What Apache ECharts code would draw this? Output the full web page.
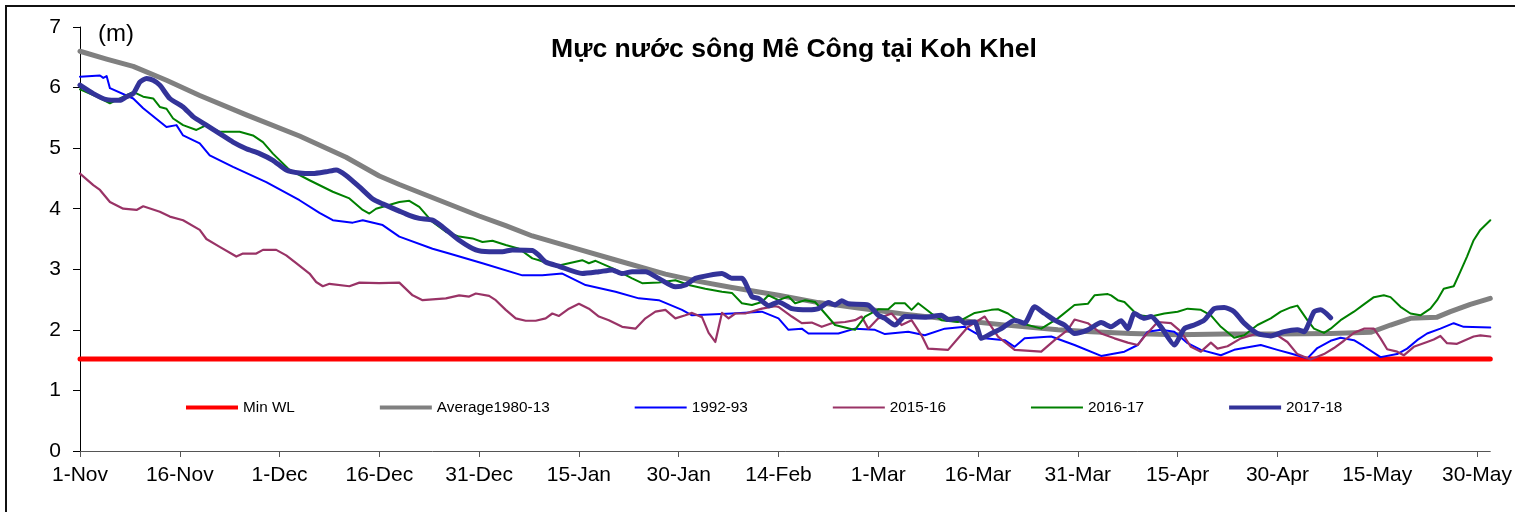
<!DOCTYPE html>
<html>
<head>
<meta charset="utf-8">
<title>Mực nước sông Mê Công tại Koh Khel</title>
<script src="https://cdn.jsdelivr.net/npm/echarts@6.0.0/dist/echarts.min.js"></script>
<style>
  html, body { margin: 0; padding: 0; background: #fff; }
  #chart { width: 1515px; height: 512px; }
</style>
</head>
<body>
<div id="chart"></div>
<script>
// x = days counted from 1-Nov
const tickDays = [0, 15, 30, 45, 60, 75, 90, 105, 120, 135, 150, 165, 180, 195, 210]
const tickLabels = ['1-Nov', '16-Nov', '1-Dec', '16-Dec', '31-Dec', '15-Jan', '30-Jan', '14-Feb',
  '1-Mar', '16-Mar', '31-Mar', '15-Apr', '30-Apr', '15-May', '30-May']
const seriesNames = ['Min WL', 'Average1980-13', '1992-93', '2015-16', '2016-17', '2017-18']

const minWL = [[0, 1.52], [212, 1.52]]

const average = [[0, 6.6], [4, 6.47], [8, 6.35], [13, 6.12], [18, 5.87], [25, 5.55], [33, 5.2], [40, 4.85],
  [45, 4.54], [48, 4.4], [54, 4.14], [60, 3.88], [64, 3.72], [68, 3.55], [75, 3.33], [80, 3.17], [88, 2.92],
  [93, 2.8], [98, 2.7], [105, 2.57], [111, 2.45], [117, 2.36], [124, 2.26], [132, 2.16], [140, 2.07], [147, 2.0],
  [152, 1.97], [158, 1.94], [165, 1.92], [172, 1.93], [180, 1.93], [188, 1.94], [194, 1.96], [197, 2.08],
  [200, 2.19], [204, 2.21], [206, 2.3], [209, 2.42], [212, 2.52]]

const y1992 = [[0, 6.18], [3, 6.2], [3.5, 6.16], [4, 6.19], [4.5, 5.99], [8, 5.82], [9.5, 5.66], [13, 5.35],
  [14.5, 5.38], [15.5, 5.21], [18, 5.08], [19.5, 4.88], [23, 4.69], [28, 4.44], [33, 4.14], [36, 3.93],
  [38, 3.81], [41, 3.77], [42.5, 3.81], [45.5, 3.73], [48, 3.54], [53, 3.34], [55.5, 3.26], [60.5, 3.1],
  [66.5, 2.9], [69.5, 2.9], [72.5, 2.93], [76, 2.74], [80.5, 2.63], [84, 2.52], [87, 2.49], [90.5, 2.33],
  [92, 2.24], [98, 2.27], [102.5, 2.3], [105, 2.19], [106.5, 2.0], [108.5, 2.02], [109.5, 1.94], [114, 1.94],
  [116.5, 2.02], [119.5, 2.0], [121, 1.93], [124.5, 1.97], [127, 1.91], [130, 2.02], [133, 2.05], [136, 1.86],
  [139, 1.83], [140.5, 1.72], [142, 1.86], [146, 1.89], [149.5, 1.75], [153.5, 1.57], [157, 1.64], [159, 1.75],
  [160.5, 1.97], [162.5, 2.0], [164.5, 1.97], [166.5, 1.78], [168.5, 1.67], [171.5, 1.58], [173.5, 1.67],
  [176, 1.72], [177.5, 1.75], [180, 1.67], [182, 1.61], [184.5, 1.53], [186, 1.7], [188, 1.82], [189.5, 1.87],
  [191.5, 1.83], [193, 1.73], [195.5, 1.55], [198, 1.6], [199.5, 1.69], [201, 1.83], [202.5, 1.94],
  [204.5, 2.02], [206.5, 2.11], [208, 2.05], [212, 2.04]]

const y2015 = [[0, 4.58], [2, 4.39], [3, 4.31], [4.5, 4.11], [6.5, 4.0], [8.5, 3.98], [9.5, 4.04], [12, 3.95],
  [13.5, 3.87], [15.5, 3.81], [18, 3.65], [19, 3.5], [21, 3.37], [23.5, 3.21], [24.5, 3.26], [26.5, 3.26],
  [27.5, 3.32], [29.5, 3.32], [31, 3.23], [32.5, 3.1], [34.5, 2.93], [35.5, 2.79], [36.5, 2.72], [37.5, 2.76],
  [40.5, 2.72], [42, 2.78], [45, 2.77], [48, 2.78], [50, 2.57], [51.5, 2.49], [55, 2.52], [57, 2.57],
  [58.5, 2.55], [59.5, 2.6], [61.5, 2.56], [62.5, 2.49], [64, 2.33], [65.5, 2.19], [67, 2.15], [68.5, 2.15],
  [70, 2.19], [71, 2.27], [72, 2.23], [73.5, 2.35], [75, 2.43], [76.5, 2.35], [78, 2.22], [79.5, 2.16],
  [81.5, 2.05], [83.5, 2.02], [85, 2.19], [86.5, 2.3], [88, 2.33], [89.5, 2.19], [91, 2.24], [92, 2.28],
  [93.5, 2.21], [94.5, 1.95], [95.5, 1.8], [96.5, 2.28], [97.5, 2.19], [98.5, 2.27], [100, 2.27],
  [102.5, 2.35], [104.5, 2.39], [105, 2.38], [107, 2.22], [108.5, 2.11], [110, 2.12], [111.5, 2.05],
  [113, 2.11], [115, 2.13], [116.5, 2.16], [117.5, 2.22], [118.5, 2.02], [120, 2.19], [122, 2.27],
  [123.5, 2.08], [125, 2.16], [126.5, 1.91], [127.5, 1.69], [130.5, 1.67], [132, 1.86], [133.5, 2.05],
  [136, 2.22], [138, 1.89], [140.5, 1.67], [144.5, 1.64], [146.5, 1.83], [148.5, 2.0], [149.5, 2.17],
  [151.5, 2.11], [153.5, 1.94], [155.5, 1.86], [157.5, 1.79], [159, 1.75], [160, 1.89], [162, 2.13],
  [164, 2.11], [165.5, 1.97], [167, 1.72], [168.5, 1.64], [170, 1.79], [171, 1.69], [172.5, 1.73],
  [174.5, 1.86], [177, 1.94], [180, 1.91], [181.5, 1.8], [183, 1.6], [185, 1.51], [187, 1.6], [188.5, 1.7],
  [190, 1.82], [191.5, 1.95], [193, 2.02], [194.5, 2.02], [195.5, 1.86], [196.5, 1.68], [198, 1.64],
  [199, 1.58], [200.5, 1.72], [202.5, 1.8], [203.5, 1.84], [204.5, 1.9], [205.5, 1.78], [207, 1.77],
  [209.5, 1.89], [210.5, 1.91], [212, 1.89]]

const y2016 = [[0, 5.97], [2.5, 5.85], [4.5, 5.74], [6, 5.82], [8, 5.93], [9.5, 5.85], [11, 5.82], [12, 5.68],
  [13, 5.65], [14, 5.49], [15.5, 5.38], [17.5, 5.3], [19, 5.38], [21, 5.27], [24, 5.27], [26, 5.21],
  [27.5, 5.1], [29, 4.91], [31.5, 4.64], [34.5, 4.47], [38, 4.28], [40.5, 4.17], [42.5, 3.98], [43.5, 3.92],
  [44.5, 4.0], [48, 4.11], [49.5, 4.13], [51, 4.03], [53, 3.78], [55, 3.62], [57, 3.54], [59, 3.51],
  [60.5, 3.45], [62, 3.47], [64, 3.4], [66, 3.34], [68, 3.18], [69, 3.15], [71.5, 3.05], [73.5, 3.1],
  [75.5, 3.15], [76.5, 3.1], [77.5, 3.14], [80, 3.02], [83, 2.85], [84.5, 2.77], [87, 2.78], [89.5, 2.82],
  [91.5, 2.74], [94, 2.68], [96.5, 2.63], [98, 2.61], [99.5, 2.44], [101, 2.41], [102.5, 2.46], [103.5, 2.57],
  [105, 2.49], [106.5, 2.55], [107.5, 2.44], [109, 2.49], [110.5, 2.46], [112, 2.27], [113.5, 2.08],
  [115, 2.04], [116.5, 2.0], [118, 2.22], [120, 2.34], [121.5, 2.34], [122.5, 2.44], [124, 2.44],
  [125, 2.33], [126, 2.44], [128, 2.27], [129.5, 2.16], [132, 2.13], [134.5, 2.28], [137, 2.33], [138, 2.34],
  [139.5, 2.27], [141.5, 2.11], [144.5, 2.02], [147, 2.19], [149.5, 2.41], [151.5, 2.43], [152.5, 2.57],
  [154.5, 2.59], [155, 2.57], [156, 2.49], [157, 2.46], [159, 2.24], [161, 2.22], [163, 2.27], [165, 2.3],
  [166.5, 2.35], [168.5, 2.33], [170, 2.24], [171.5, 2.05], [173.5, 1.87], [175, 1.91], [177, 2.08],
  [179, 2.19], [180.5, 2.3], [182, 2.37], [183, 2.4], [184.5, 2.16], [185.5, 2.02], [187, 1.95], [188, 2.02],
  [189.5, 2.16], [191.5, 2.3], [193, 2.42], [194.5, 2.54], [196, 2.57], [197, 2.54], [198.5, 2.38],
  [200, 2.27], [201.5, 2.24], [203, 2.35], [204, 2.49], [205, 2.68], [206.5, 2.72], [207.5, 2.96],
  [208.5, 3.21], [209.5, 3.48], [210.5, 3.65], [212, 3.81]]

const y2017 = [[0, 6.04], [2, 5.9], [4, 5.8], [6, 5.79], [7, 5.85], [8, 5.9], [9, 6.09], [10, 6.15], [11, 6.12],
  [12, 6.04], [13.5, 5.82], [15.5, 5.68], [17, 5.52], [19, 5.38], [21, 5.24], [23, 5.1], [25, 4.99],
  [27, 4.91], [29, 4.8], [31, 4.64], [33, 4.59], [35, 4.58], [37, 4.61], [38.5, 4.64], [40, 4.55],
  [42, 4.36], [44, 4.16], [45.5, 4.08], [48, 3.96], [49.5, 3.89], [51, 3.84], [53, 3.81], [54.5, 3.7],
  [57, 3.48], [59.5, 3.32], [61.5, 3.29], [63.5, 3.29], [65, 3.32], [68, 3.31], [69, 3.23], [70, 3.12],
  [72, 3.05], [75.5, 2.93], [78, 2.96], [80, 2.99], [81.5, 2.93], [83, 2.96], [85, 2.96], [87, 2.85],
  [89.5, 2.71], [91, 2.74], [92.5, 2.85], [94.5, 2.9], [96.5, 2.93], [98, 2.85], [99.5, 2.85], [101, 2.55],
  [102, 2.52], [103.5, 2.4], [105, 2.46], [107, 2.35], [109.5, 2.33], [111, 2.35], [112.5, 2.45],
  [113.5, 2.41], [114.5, 2.48], [115.5, 2.43], [118.5, 2.41], [120, 2.24], [121, 2.19], [122.5, 2.08],
  [124, 2.22], [127, 2.21], [129.5, 2.24], [130.5, 2.17], [132, 2.19], [133, 2.11], [134.5, 2.13],
  [135.5, 1.86], [137, 1.94], [138.5, 2.02], [140.5, 2.16], [142, 2.11], [143.5, 2.38], [145, 2.27],
  [146.5, 2.16], [148, 2.08], [149.5, 1.94], [151.5, 2.0], [153.5, 2.12], [155, 2.05], [156.5, 2.15],
  [157.5, 2.02], [158.5, 2.27], [160, 2.19], [161, 2.22], [162.5, 2.05], [164.5, 1.75], [166, 2.02],
  [167.5, 2.08], [169, 2.16], [170.5, 2.35], [172, 2.37], [173.5, 2.3], [175, 2.11], [177, 1.94], [179, 1.9],
  [181, 1.97], [183, 2.0], [184, 1.97], [185.5, 2.3], [186.5, 2.33], [188, 2.2]]

const seriesData = [minWL, average, y1992, y2015, y2016, y2017]
const colors = ['#ff0000', '#808080', '#0000ff', '#993366', '#008000', '#333399']
const widths = [5, 5, 2, 2.2, 2, 5]

const font = "'Liberation Sans', Arial, sans-serif"

const chart = echarts.init(document.getElementById('chart'))

let series = []
let legendData = []
for (let i = 0; i < seriesNames.length; i++) {
  series.push({
    name: seriesNames[i],
    type: 'line',
    data: seriesData[i],
    symbol: 'none',
    smooth: i === 5 ? 0.2 : false,
    lineStyle: { color: colors[i], width: widths[i], cap: 'round', join: 'round' },
    itemStyle: { color: colors[i] },
  })
  // plain bar icon, thick for the heavy lines and thin for the others
  let h = widths[i] >= 4 ? 4 : 2
  legendData.push({ name: seriesNames[i], icon: 'path://M0,0H52V' + h + 'H0Z' })
}

chart.setOption({
  animation: false,
  backgroundColor: '#fff',
  textStyle: { fontFamily: font },
  title: {
    text: 'Mực nước sông Mê Công tại Koh Khel',
    left: 551,
    top: 36,
    padding: 0,
    textStyle: { fontFamily: font, fontSize: 26.6, fontWeight: 'bold', color: '#000' },
  },
  legend: {
    left: 186,
    top: 400,
    padding: 0,
    itemWidth: 52,
    itemHeight: 14,
    itemGap: 85,
    textStyle: { fontFamily: font, fontSize: 15.3, color: '#000' },
    data: legendData,
  },
  grid: { left: 80, right: 22, top: 27, bottom: 61, containLabel: false },
  xAxis: {
    type: 'value',
    min: 0,
    max: 212,
    splitLine: { show: false },
    axisLine: { lineStyle: { color: '#555', width: 1 } },
    axisTick: { length: 6, lineStyle: { color: '#555' }, customValues: tickDays },
    axisLabel: {
      customValues: tickDays,
      margin: 14,
      fontSize: 21,
      color: '#000',
      fontFamily: font,
      formatter: (v) => tickLabels[tickDays.indexOf(v)] || '',
    },
  },
  yAxis: {
    type: 'value',
    min: 0,
    max: 7,
    interval: 1,
    splitLine: { show: false },
    axisLine: { show: true, lineStyle: { color: '#000', width: 1 } },
    axisTick: { show: true, length: 7, lineStyle: { color: '#000' } },
    axisLabel: { margin: 19, fontSize: 21, color: '#000', fontFamily: font },
  },
  graphic: [
    // chart frame (only top and left edges are visible)
    {
      type: 'polyline',
      shape: { points: [[6, 520], [6, 6], [1520, 6]] },
      style: { stroke: '#111', lineWidth: 2, fill: null },
    },
    {
      type: 'text',
      left: 98,
      top: 22,
      style: { text: '(m)', font: '24px ' + font, fill: '#000' },
    },
  ],
  series: series,
})
</script>
</body>
</html>
